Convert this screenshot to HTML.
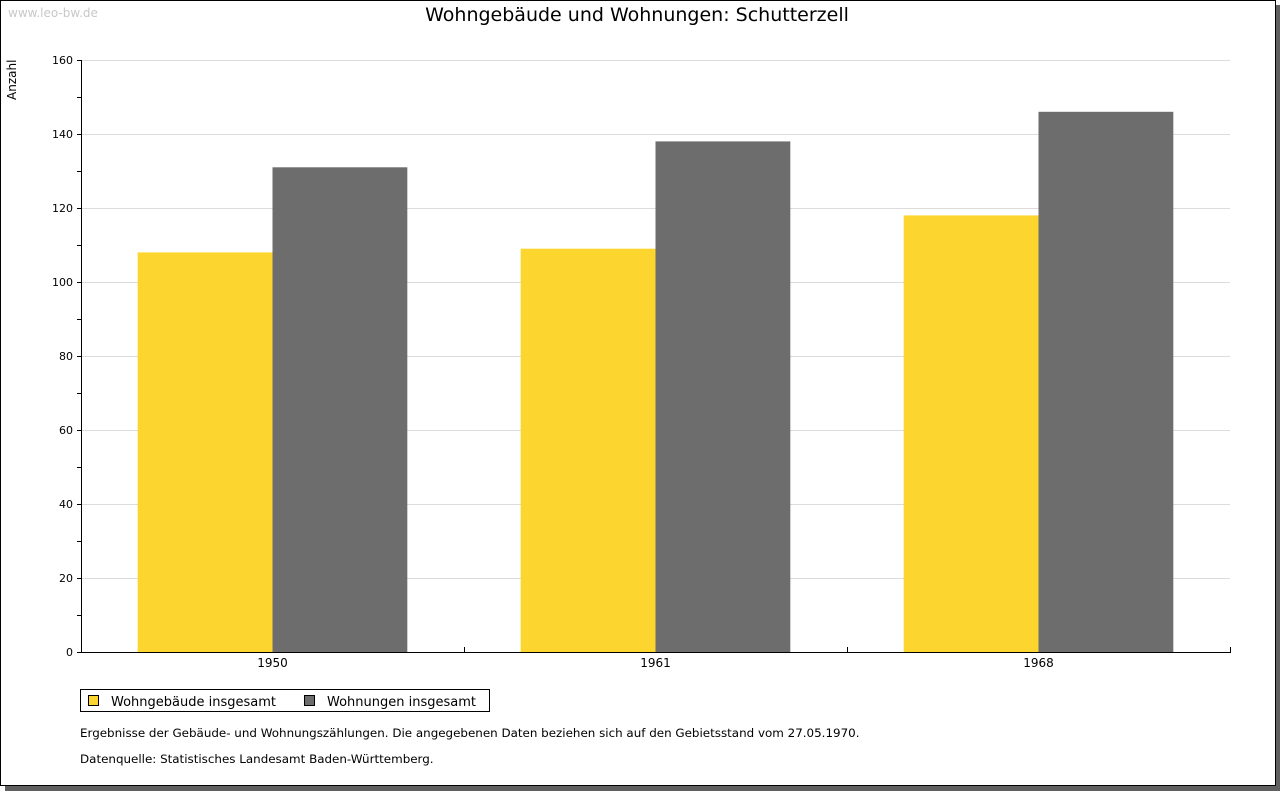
<!DOCTYPE html>
<html><head><meta charset="utf-8"><style>
body{margin:0;background:#fff;width:1280px;height:791px;overflow:hidden;font-family:"Liberation Sans",Verdana,sans-serif}
svg text{font-family:"DejaVu Sans","Liberation Sans",sans-serif}
</style></head><body>
<svg id="c" width="1280" height="791" xmlns="http://www.w3.org/2000/svg">
<rect x="5" y="5" width="1275" height="786" fill="#606060"/>
<rect x="0.5" y="0.5" width="1275" height="785" fill="#fff" stroke="#000"/>
<text x="8" y="17" font-size="12" fill="#c8c8c8">www.leo-bw.de</text>
<text x="637" y="21" font-size="19" text-anchor="middle" fill="#000">Wohngebäude und Wohnungen: Schutterzell</text>
<text transform="translate(16,100) rotate(-90)" font-size="12">Anzahl</text>
<g id="grid"></g><g id="bars"></g><g id="axes"></g>
<rect x="80.5" y="689.5" width="409" height="22" fill="#fff" stroke="#000"/>
<rect x="88.5" y="695.5" width="10" height="10" fill="#fcd62e" stroke="#000"/>
<text x="111" y="706" font-size="13">Wohngebäude insgesamt</text>
<rect x="304.5" y="695.5" width="10" height="10" fill="#6d6d6d" stroke="#000"/>
<text x="327" y="706" font-size="13">Wohnungen insgesamt</text>
<text x="80" y="737" font-size="11.9">Ergebnisse der Gebäude- und Wohnungszählungen. Die angegebenen Daten beziehen sich auf den Gebietsstand vom 27.05.1970.</text>
<text x="80" y="763" font-size="11.9">Datenquelle: Statistisches Landesamt Baden-Württemberg.</text>
</svg>
<script>
const categories=["1950","1961","1968"];
const wohngebaeude=[108,109,118];
const wohnungen=[131,138,146];
const yTicks=[0,20,40,60,80,100,120,140,160];
const NS="http://www.w3.org/2000/svg";
const X0=81,X1=1230,Y0=652,Y1=60,YMAX=160;
const y=v=>Y0-(v/YMAX)*(Y0-Y1);
const bw=(X1-X0)/categories.length;
const xb=i=>X0+i*bw;
function mk(p,t,a){const e=document.createElementNS(NS,t);for(const k in a)e.setAttribute(k,a[k]);document.getElementById(p).appendChild(e);return e;}
yTicks.forEach(v=>{
 if(v>0){const g=mk('grid','line',{x1:X0,x2:X1,y1:y(v)+0.5,y2:y(v)+0.5,stroke:'#dcdcdc'});
 
 }
 const t=mk('axes','text',{x:73,y:y(v)+4,'font-size':11,'text-anchor':'end'});t.textContent=v;
 
 
});
for(let v=0;v<=YMAX;v+=10){const tk=mk('axes','line',{x1:X0-4,x2:X0,y1:y(v)+0.5,y2:y(v)+0.5,stroke:'#000'});
 
 }
categories.forEach((c,i)=>{
 const s=xb(i)+bw*0.148,w=bw*0.352;
 const a=mk('bars','rect',{x:s,y:y(wohngebaeude[i]),width:w,height:Y0-y(wohngebaeude[i]),fill:'#fcd62e'});
 
 
 const b=mk('bars','rect',{x:s+w,y:y(wohnungen[i]),width:w,height:Y0-y(wohnungen[i]),fill:'#6d6d6d'});
 
 
 const t=mk('axes','text',{x:xb(i)+bw/2,y:667,'font-size':12,'text-anchor':'middle'});t.textContent=c;
 
 
 if(i>0){const tk=mk('axes','line',{x1:Math.round(xb(i))+0.5,x2:Math.round(xb(i))+0.5,y1:Y0-5,y2:Y0,stroke:'#000'});
 
 }
});
const ya=mk('axes','line',{x1:X0+0.5,x2:X0+0.5,y1:Y1,y2:Y0+1,stroke:'#000'});


const xa=mk('axes','path',{d:`M${X0} ${Y0+0.5}H${X1+0.5}V${Y0-5}`,stroke:'#000',fill:'none'});


</script>
</body></html>
